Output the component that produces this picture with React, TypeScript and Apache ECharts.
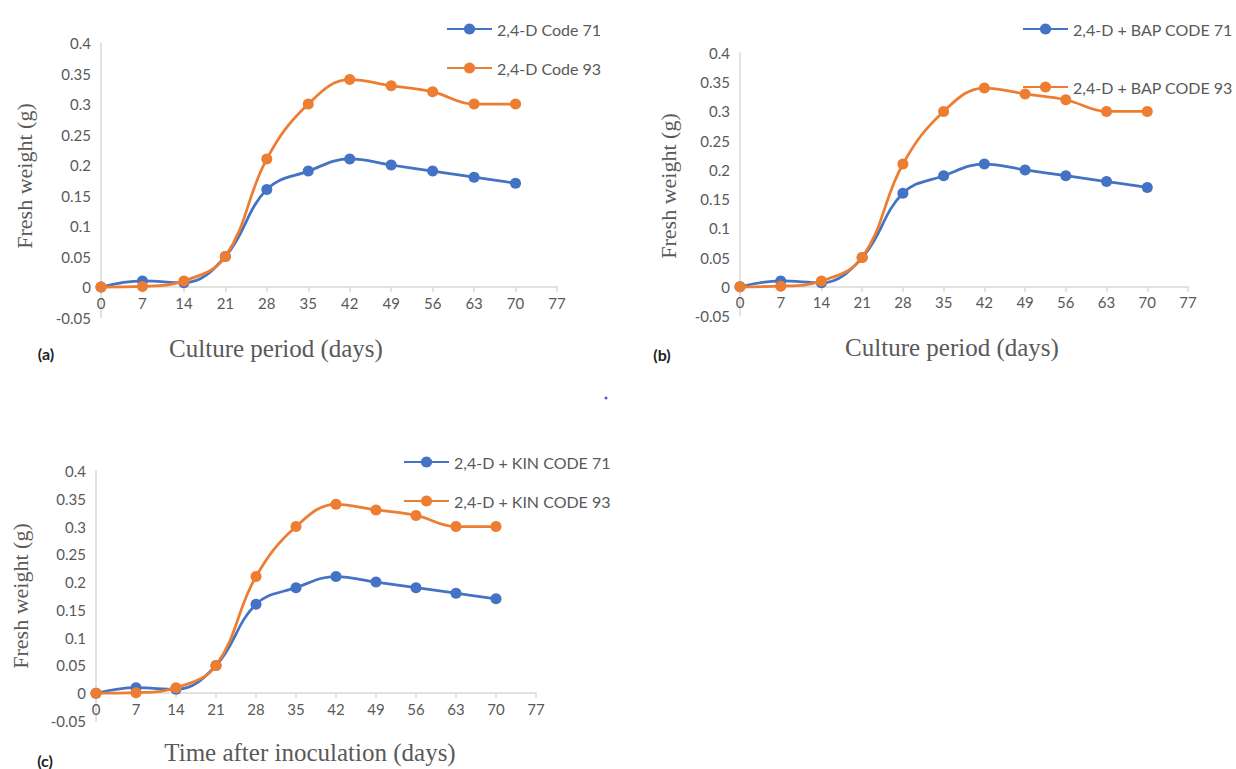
import React, { useEffect, useRef } from "react";
import * as echarts from "echarts";

// ---- data ----
const days = [0, 7, 14, 21, 28, 35, 42, 49, 56, 63, 70];
const code71 = [0, 0.01, 0.007, 0.05, 0.16, 0.19, 0.21, 0.2, 0.19, 0.18, 0.17];
const code93 = [0, 0.001, 0.01, 0.05, 0.21, 0.3, 0.34, 0.33, 0.32, 0.3, 0.3];
const xMin = 0;
const xMax = 77;
const xStep = 7;
const yMin = -0.05;
const yMax = 0.4;
const yStep = 0.05;
const panelNames = [
  ["2,4-D Code 71", "2,4-D Code 93"],
  ["2,4-D + BAP CODE 71", "2,4-D + BAP CODE 93"],
  ["2,4-D + KIN CODE 71", "2,4-D + KIN CODE 93"],
];
const xTitles = ["Culture period (days)", "Culture period (days)", "Time after inoculation (days)"];
const yTitle = "Fresh weight (g)";
const panelTags = ["(a)", "(b)", "(c)"];

// ---- layout ----
const layouts = [
  { left: 101, right: 557, top: 43, bottom: 317.5, legendLeft: 441, legendTop: 16, legendGap: 23, yTitleX: 24, yTitleY: 176, xTitleX: 276, xTitleY: 348, tagX: 46, tagY: 353 },
  { left: 740, right: 1188, top: 53, bottom: 316, legendLeft: 1017, legendTop: 16, legendGap: 42, yTitleX: 668, yTitleY: 186, xTitleX: 952, xTitleY: 347, tagX: 662, tagY: 354 },
  { left: 96, right: 536, top: 471, bottom: 721, legendLeft: 398, legendTop: 449, legendGap: 23, yTitleX: 20, yTitleY: 596, xTitleX: 310, xTitleY: 752, tagX: 45, tagY: 760 },
];

const BLUE = "#4472C4";
const ORANGE = "#ED7D31";
const GRAY_TEXT = "#595959";
const AXIS_LINE = "#D9D9D9";
const SANS = "Lato, 'Liberation Sans', sans-serif";
const SERIF = "'Liberation Serif', 'DejaVu Serif', serif";

export default function App() {
  const ref = useRef<HTMLDivElement>(null);
  useEffect(() => {
    if (!ref.current) return;
    const chart = echarts.init(ref.current, undefined, { renderer: "svg" });
    const grids: any[] = [];
    const xAxes: any[] = [];
    const yAxes: any[] = [];
    const legends: any[] = [];
    const series: any[] = [];
    const graphics: any[] = [];
    const fmtY = (v: number) => String(Math.round(v * 100) / 100);

    layouts.forEach((L, i) => {
      const h = L.bottom - L.top;
      // distance (px) from grid bottom up to the value-0 line, so the x axis crosses at zero
      const zeroOffset = (h * (0 - yMin)) / (yMax - yMin);
      grids.push({ left: L.left, top: L.top, width: L.right - L.left, height: h, containLabel: false });
      xAxes.push({
        type: "value",
        gridIndex: i,
        min: xMin,
        max: xMax,
        interval: xStep,
        offset: -zeroOffset,
        splitLine: { show: false },
        axisLine: { show: true, onZero: false, lineStyle: { color: AXIS_LINE, width: 1.5 } },
        axisTick: { show: true, length: 5, lineStyle: { color: AXIS_LINE, width: 1.5 } },
        axisLabel: { color: GRAY_TEXT, fontSize: 15, fontFamily: SANS, margin: 8 },
      });
      yAxes.push({
        type: "value",
        gridIndex: i,
        min: yMin,
        max: yMax,
        interval: yStep,
        splitLine: { show: false },
        axisLine: { show: true, onZero: false, lineStyle: { color: AXIS_LINE, width: 1.5 } },
        axisTick: { show: false },
        axisLabel: { color: GRAY_TEXT, fontSize: 15, fontFamily: SANS, margin: 10, formatter: fmtY },
      });
      const names = panelNames[i];
      legends.push({
        left: L.legendLeft,
        top: L.legendTop,
        orient: "vertical",
        itemWidth: 45,
        itemHeight: 14,
        itemGap: L.legendGap,
        data: names,
        textStyle: { color: GRAY_TEXT, fontSize: 16, fontFamily: SANS },
        selectedMode: false,
      });
      [code71, code93].forEach((vals, k) => {
        series.push({
          type: "line",
          name: names[k],
          xAxisIndex: i,
          yAxisIndex: i,
          smooth: 0.4,
          symbol: "circle",
          symbolSize: 11,
          lineStyle: { width: 2.75, color: k === 0 ? BLUE : ORANGE },
          itemStyle: { color: k === 0 ? BLUE : ORANGE },
          data: days.map((d, j) => [d, vals[j]]),
          z: k === 0 ? 2 : 3,
        });
      });
      graphics.push({
        type: "text",
        x: L.yTitleX,
        y: L.yTitleY,
        rotation: Math.PI / 2,
        style: { text: yTitle, fill: GRAY_TEXT, fontSize: 22, fontFamily: SERIF, align: "center", verticalAlign: "middle" },
      });
      graphics.push({
        type: "text",
        x: L.xTitleX,
        y: L.xTitleY,
        style: { text: xTitles[i], fill: GRAY_TEXT, fontSize: 25, fontFamily: SERIF, align: "center", verticalAlign: "middle" },
      });
      graphics.push({
        type: "text",
        x: L.tagX,
        y: L.tagY,
        style: { text: panelTags[i], fill: "#222222", fontSize: 16, fontWeight: "bold", fontFamily: SANS, align: "center", verticalAlign: "middle" },
      });
    });
    graphics.push({ type: "circle", shape: { cx: 606, cy: 398, r: 1.5 }, style: { fill: "#4a5fc1" } });

    chart.setOption({
      animation: false,
      backgroundColor: "#ffffff",
      grid: grids,
      xAxis: xAxes,
      yAxis: yAxes,
      legend: legends,
      series,
      graphic: graphics,
    });
    return () => chart.dispose();
  }, []);
  return <div ref={ref} style={{ position: "fixed", left: 0, top: 0, width: 1236, height: 769 }} />;
}
